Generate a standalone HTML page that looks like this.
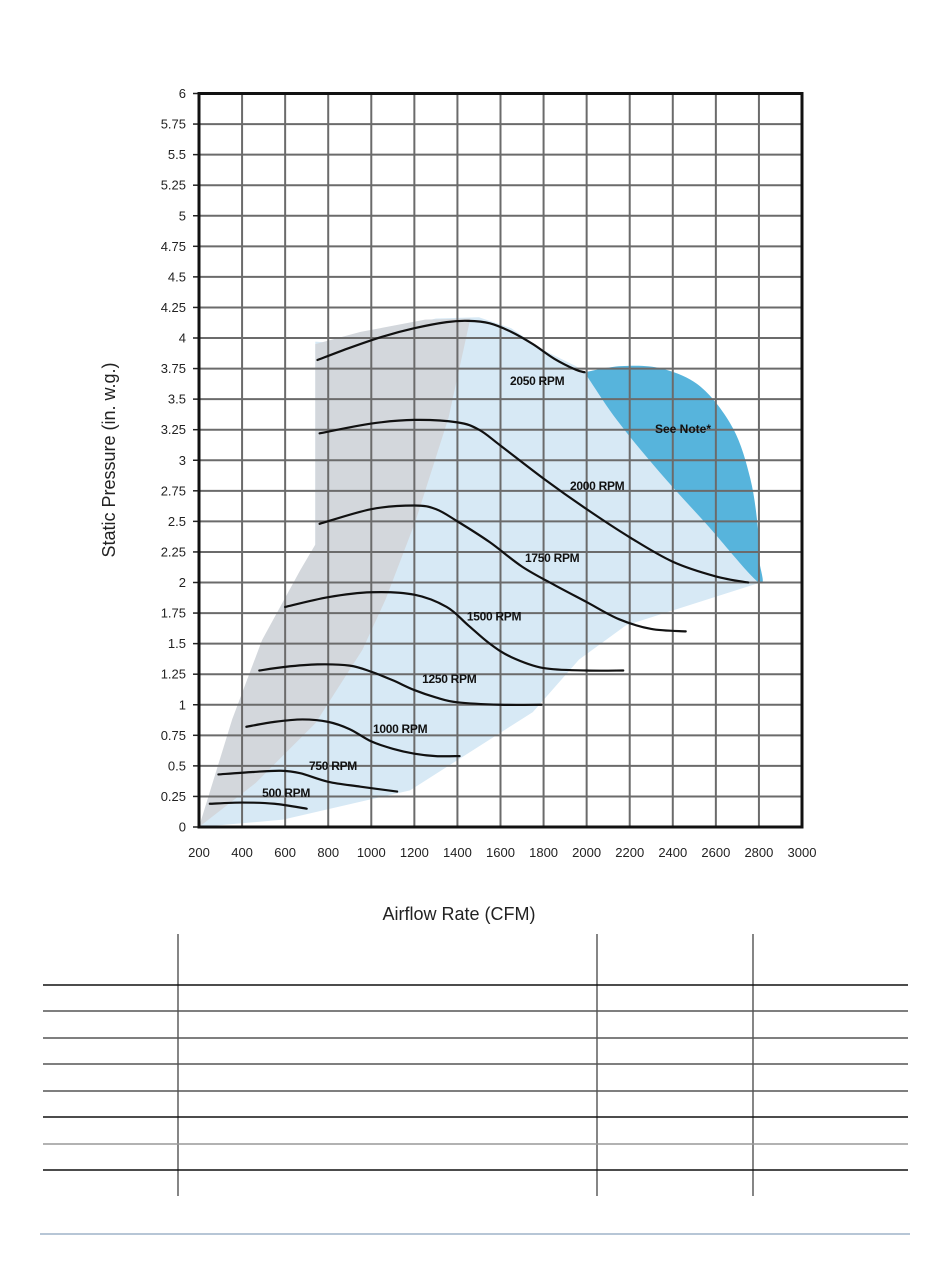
<!DOCTYPE html>
<html><head><meta charset="utf-8"><style>
html,body{margin:0;padding:0;background:#fff;}
svg{display:block;font-family:"Liberation Sans",Arial,sans-serif;}
</style></head><body>
<svg id="chart" width="950" height="1284" viewBox="0 0 950 1284" xmlns="http://www.w3.org/2000/svg">
<g id="regions"></g>
<g id="grid"></g>
<g id="curves"></g>
<g id="labels"></g>
<g id="axes"></g>
<text x="0" y="0" transform="translate(115,460) rotate(-90)" text-anchor="middle" font-size="18" fill="#222">Static Pressure (in. w.g.)</text>
<text x="459" y="920" text-anchor="middle" font-size="18" fill="#222">Airflow Rate (CFM)</text>
<g id="table"></g>
<line x1="40" y1="1234" x2="910" y2="1234" stroke="#9fb3c8" stroke-width="1.5"/>
</svg>
<script>
const xTicks=[200,400,600,800,1000,1200,1400,1600,1800,2000,2200,2400,2600,2800,3000];
const yTicks=[0,0.25,0.5,0.75,1,1.25,1.5,1.75,2,2.25,2.5,2.75,3,3.25,3.5,3.75,4,4.25,4.5,4.75,5,5.25,5.5,5.75,6];
const yTickLabels=["0","0.25","0.5","0.75","1","1.25","1.5","1.75","2","2.25","2.5","2.75","3","3.25","3.5","3.75","4","4.25","4.5","4.75","5","5.25","5.5","5.75","6"];
const rpm500=[[250,0.19],[400,0.2],[550,0.19],[700,0.15]];
const rpm750=[[290,0.43],[450,0.45],[580,0.46],[670,0.44],[800,0.37],[950,0.33],[1120,0.29]];
const rpm1000=[[420,0.82],[550,0.86],[680,0.88],[800,0.86],[900,0.8],[1000,0.7],[1100,0.64],[1200,0.6],[1300,0.58],[1410,0.58]];
const rpm1250=[[480,1.28],[600,1.31],[750,1.33],[900,1.32],[1000,1.27],[1100,1.2],[1200,1.12],[1300,1.06],[1400,1.02],[1600,1.0],[1790,1.0]];
const rpm1500=[[600,1.8],[800,1.88],[1000,1.92],[1200,1.9],[1350,1.8],[1450,1.65],[1550,1.5],[1650,1.39],[1800,1.3],[2000,1.28],[2170,1.28]];
const rpm1750=[[760,2.48],[1000,2.6],[1200,2.63],[1300,2.6],[1400,2.5],[1550,2.33],[1700,2.13],[1850,1.98],[2000,1.84],[2150,1.7],[2300,1.62],[2460,1.6]];
const rpm2000=[[760,3.22],[1000,3.3],[1200,3.33],[1400,3.31],[1500,3.25],[1600,3.12],[1800,2.85],[2000,2.6],[2200,2.37],[2400,2.17],[2600,2.05],[2750,2.0]];
const rpm2050=[[750,3.82],[900,3.92],[1050,4.01],[1200,4.08],[1350,4.13],[1450,4.14],[1550,4.12],[1650,4.05],[1750,3.95],[1850,3.83],[1950,3.74],[1990,3.72]];
const curveNames=["500","750","1000","1250","1500","1750","2000","2050"];
const curveLabelPos=[[493,0.28],[711,0.5],[1008,0.8],[1236,1.21],[1444,1.72],[1714,2.2],[1923,2.79],[1644,3.65]];
const grayRegion=[[200,0],[354,0.88],[493,1.53],[670,2.1],[740,2.31],[740,3.95],[950,4.05],[1250,4.15],[1460,4.16],[1359,3.35],[1205,2.5],[1066,1.86],[959,1.45],[741,0.85],[463,0.36],[200,0]];
const blueRegion=[[200,0],[590,0.06],[1180,0.3],[1750,0.94],[1965,1.37],[2183,1.65],[2807,2.0],[1990,3.72],[1950,3.77],[1800,3.9],[1650,4.08],[1500,4.17],[1300,4.16],[1100,4.07],[900,3.95],[740,3.97],[740,2.31]];
const noteRegion=[[1990,3.72],[2160,3.77],[2350,3.75],[2530,3.6],[2680,3.26],[2760,2.85],[2795,2.45],[2800,2.2],[2800,2.0],[2560,2.47],[2340,2.9],[2140,3.33],[1990,3.72]];
const X0=199,X1=802,YB=827,YT=93.5;
const xs=v=>X0+(v-200)/2800*(X1-X0);
const ys=v=>YB-v/6*(YB-YT);
const NS="http://www.w3.org/2000/svg";
function mk(tag,attrs,parent){const e=document.createElementNS(NS,tag);for(const k in attrs)e.setAttribute(k,attrs[k]);parent.appendChild(e);return e;}
function smooth(pts){const p=pts.map(d=>[xs(d[0]),ys(d[1])]);let s="M"+p[0][0]+","+p[0][1];for(let i=0;i<p.length-1;i++){const a=p[i-1]||p[i],b=p[i],c=p[i+1],d=p[i+2]||c;s+=" C"+(b[0]+(c[0]-a[0])/6)+","+(b[1]+(c[1]-a[1])/6)+" "+(c[0]-(d[0]-b[0])/6)+","+(c[1]-(d[1]-b[1])/6)+" "+c[0]+","+c[1];}return s;}
function poly(pts){return pts.map(d=>xs(d[0])+","+ys(d[1])).join(" ");}
const R=document.getElementById('regions');
let e=mk('polygon',{points:poly(blueRegion),fill:"#d7e9f5"},R);


e=mk('polygon',{points:poly(grayRegion),fill:"#d3d7dc"},R);


e=mk('path',{d:smooth(noteRegion)+" Z",fill:"#57b4dc"},R);


const G=document.getElementById('grid');
xTicks.forEach((t,i)=>{if(i>0&&i<xTicks.length-1){const l=mk('line',{x1:xs(t),x2:xs(t),y1:YT,y2:YB,stroke:"#6b6b6b","stroke-width":2},G);}
 const tx=mk('text',{x:xs(t),y:857,"text-anchor":"middle","font-size":13,fill:"#222"},G);tx.textContent=t;});
yTicks.forEach((t,i)=>{if(i>0&&i<yTicks.length-1){const l=mk('line',{x1:X0,x2:X1,y1:ys(t),y2:ys(t),stroke:"#6b6b6b","stroke-width":2},G);}
 const tk=mk('line',{x1:193,x2:X0,y1:ys(t),y2:ys(t),stroke:"#222","stroke-width":1.5},G);
 const tx=mk('text',{x:186,y:ys(t)+4.5,"text-anchor":"end","font-size":13,fill:"#222"},G);tx.textContent=yTickLabels[i];});
const A=document.getElementById('axes');
e=mk('rect',{x:X0,y:YT,width:X1-X0,height:YB-YT,fill:"none",stroke:"#111","stroke-width":3},A);


const C=document.getElementById('curves');
[rpm500,rpm750,rpm1000,rpm1250,rpm1500,rpm1750,rpm2000,rpm2050].forEach((c,i)=>{const p=mk('path',{d:smooth(c),fill:"none",stroke:"#111","stroke-width":2.2,"stroke-linecap":"round"},C);});
const L=document.getElementById('labels');
curveNames.forEach((n,i)=>{const t=mk('text',{x:xs(curveLabelPos[i][0]),y:ys(curveLabelPos[i][1])+4,"font-size":12,"font-weight":"bold",fill:"#111","letter-spacing":"-0.3"},L);t.textContent=n+" RPM";});
e=mk('text',{x:655,y:433,"font-size":12,"font-weight":"bold",fill:"#111"},L);
e.textContent="See Note*";


const T=document.getElementById('table');
[178,597,753].forEach(x=>{const l=mk('line',{x1:x,x2:x,y1:934,y2:1196,stroke:"#444","stroke-width":1.3},T);});
[[985,"#111"],[1011,"#555"],[1038,"#555"],[1064,"#555"],[1091,"#555"],[1117,"#111"],[1144,"#999"],[1170,"#111"]].forEach(r=>{const l=mk('line',{x1:43,x2:908,y1:r[0],y2:r[0],stroke:r[1],"stroke-width":1.4},T);});
</script>
</body></html>
